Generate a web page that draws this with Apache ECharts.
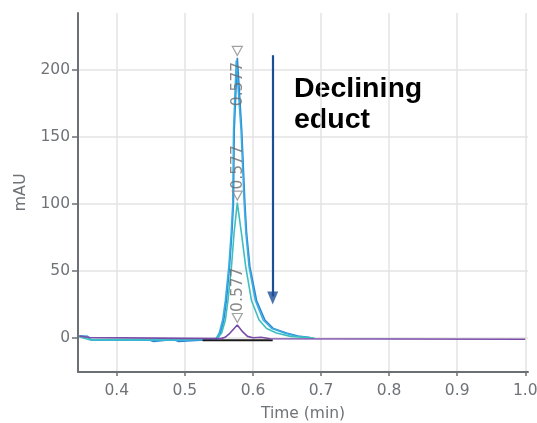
<!DOCTYPE html>
<html>
<head>
<meta charset="utf-8">
<script src="https://cdn.jsdelivr.net/npm/echarts@6/dist/echarts.min.js"></script>
<style>html,body{margin:0;padding:0;background:#fff}#c{width:537px;height:423px}</style>
</head>
<body>
<div id="c"></div>
<script>
// ---- data ----
const xTicks = [0.4, 0.5, 0.6, 0.7, 0.8, 0.9, 1.0];
const yTicks = [0, 50, 100, 150, 200];

const darkBlue = [[0.345,1.5],[0.357,1.2],[0.361,-1.2],[0.446,-1.2],[0.448,-2.6],[0.454,-2.6],[0.456,-1.2],[0.483,-1.2],[0.485,-2.6],[0.491,-2.6],[0.493,-1.2],[0.547,-1],[0.552,3.5],[0.557,13],[0.561,28],[0.5655,53],[0.569,78],[0.5713,100],[0.5725,155],[0.577,209],[0.5835,155],[0.5882,100],[0.5907,78],[0.5955,53],[0.6053,28],[0.6175,13.4],[0.630,7],[0.649,3.7],[0.666,1.5],[0.684,0.3]];
const lightBlue = [[0.345,1.2],[0.358,0.8],[0.362,-1.6],[0.49,-1.6],[0.545,-1.2],[0.5505,3.7],[0.5555,13.4],[0.5595,28],[0.5645,53],[0.568,78],[0.5703,100],[0.5715,155],[0.5755,207],[0.5825,155],[0.5872,100],[0.5897,78],[0.5943,53],[0.6035,28],[0.615,13.4],[0.628,7],[0.646,3.7],[0.662,1.5],[0.680,0.2]];
const teal = [[0.345,1],[0.36,-1.3],[0.54,-1],[0.548,0],[0.554,3.7],[0.5595,13.4],[0.5633,28],[0.5684,53],[0.5722,78],[0.577,101],[0.5831,78],[0.5894,53],[0.5978,28],[0.609,13.4],[0.620,7],[0.6345,3.7],[0.655,1.2],[0.69,0]];
const purple = [[0.345,1.5],[0.36,0.3],[0.50,-0.3],[0.553,-0.5],[0.559,0.5],[0.566,3.5],[0.577,9.7],[0.585,4.5],[0.592,1.2],[0.600,0.2],[0.612,0.5],[0.625,-0.6],[1.0,-1]];
const integrationBaseline = [[0.526,-1.8],[0.629,-1.8]];

const peakTimes = [0.577, 0.577, 0.577];
const peakHeights = [209, 101, 9.7];
const peakLabels = ['0.577', '0.577', '0.577'];

const arrowTime = 0.629;
const arrowFrom = 211;
const arrowTo = 25;
const annotationText = 'Declining\neduct';

// ---- chart ----
const axisColor = '#6c7075';
const textColor = '#6f7378';
const font = 'DejaVu Sans';
const arrowColor = '#1d4f96';

const markerData = peakTimes.map((t, i) => {
  const below = peakHeights[i] > 180;
  return {
    value: [t, peakHeights[i]],
    label: {
      show: true,
      formatter: peakLabels[i],
      rotate: 90,
      position: below ? [6, 16] : [6, -1],
      align: below ? 'right' : 'left',
      verticalAlign: 'middle',
      color: '#6a6a6a',
      fontFamily: font,
      fontSize: 15.5
    }
  };
});

const chart = echarts.init(document.getElementById('c'));
chart.setOption({
  animation: false,
  grid: { left: 78, right: 9, top: 13, bottom: 51, outerBoundsMode: 'none', containLabel: false },
  xAxis: {
    type: 'value', min: 0.343, max: 1.004,
    name: 'Time (min)', nameLocation: 'middle', nameGap: 34,
    nameTextStyle: { color: textColor, fontFamily: font, fontSize: 15.5 },
    axisLine: { show: true, onZero: false, lineStyle: { color: axisColor, width: 2 } },
    axisTick: { show: true, customValues: xTicks, length: 4, lineStyle: { color: axisColor, width: 1.5 } },
    axisLabel: { customValues: xTicks, formatter: v => v.toFixed(1), margin: 11, color: textColor, fontFamily: font, fontSize: 15.5 },
    splitLine: { show: true, lineStyle: { color: '#e3e3e3', width: 1.5 } }
  },
  yAxis: {
    type: 'value', min: -25.4, max: 242.5,
    name: 'mAU', nameLocation: 'middle', nameGap: 49, nameRotate: 90,
    nameTextStyle: { color: textColor, fontFamily: font, fontSize: 16 },
    axisLine: { show: true, onZero: false, lineStyle: { color: axisColor, width: 2 } },
    axisTick: { show: true, customValues: yTicks, length: 6, lineStyle: { color: axisColor, width: 1.5 } },
    axisLabel: { customValues: yTicks, margin: 8, color: textColor, fontFamily: font, fontSize: 15.5 },
    splitLine: { show: true, lineStyle: { color: '#e3e3e3', width: 1.5 } }
  },
  graphic: [{
    type: 'text', left: 294, top: 74,
    style: { text: annotationText, fill: '#000', font: 'bold 28.5px "Liberation Sans", Arial, sans-serif', lineHeight: 31 }
  }],
  series: [
    { type: 'line', data: darkBlue, showSymbol: false, lineStyle: { color: '#2b84d2', width: 1.6 }, z: 2 },
    { type: 'line', data: lightBlue, showSymbol: false, lineStyle: { color: '#3aaee3', width: 1.6 }, z: 2 },
    { type: 'line', data: teal, showSymbol: false, lineStyle: { color: '#3ebfbf', width: 1.6 }, z: 3 },
    { type: 'line', data: integrationBaseline, showSymbol: false, lineStyle: { color: '#1a1a1a', width: 2 }, z: 3 },
    { type: 'line', data: purple, showSymbol: false, lineStyle: { color: '#7a4caa', width: 1.6 }, z: 4 },
    {
      type: 'scatter', data: markerData, symbol: 'triangle', symbolRotate: 180,
      symbolSize: [10, 9], symbolOffset: [0, -7],
      itemStyle: { color: 'rgba(255,255,255,0)', borderColor: '#8a8a8a', borderWidth: 1.2 }, z: 5
    },
    {
      type: 'line', data: [], z: 6,
      markLine: {
        silent: true, symbol: ['none', 'none'],
        label: { show: false },
        lineStyle: { color: arrowColor, width: 2.2, type: 'solid' },
        data: [[{ coord: [arrowTime, arrowFrom] }, { coord: [arrowTime, arrowTo + 6] }]]
      }
    },
    {
      type: 'scatter', data: [[arrowTime, arrowTo]], z: 6, silent: true,
      symbol: 'triangle', symbolRotate: 180, symbolSize: [11, 13], symbolOffset: [0, -6.5],
      itemStyle: { color: arrowColor }
    }
  ]
});
</script>
</body>
</html>
